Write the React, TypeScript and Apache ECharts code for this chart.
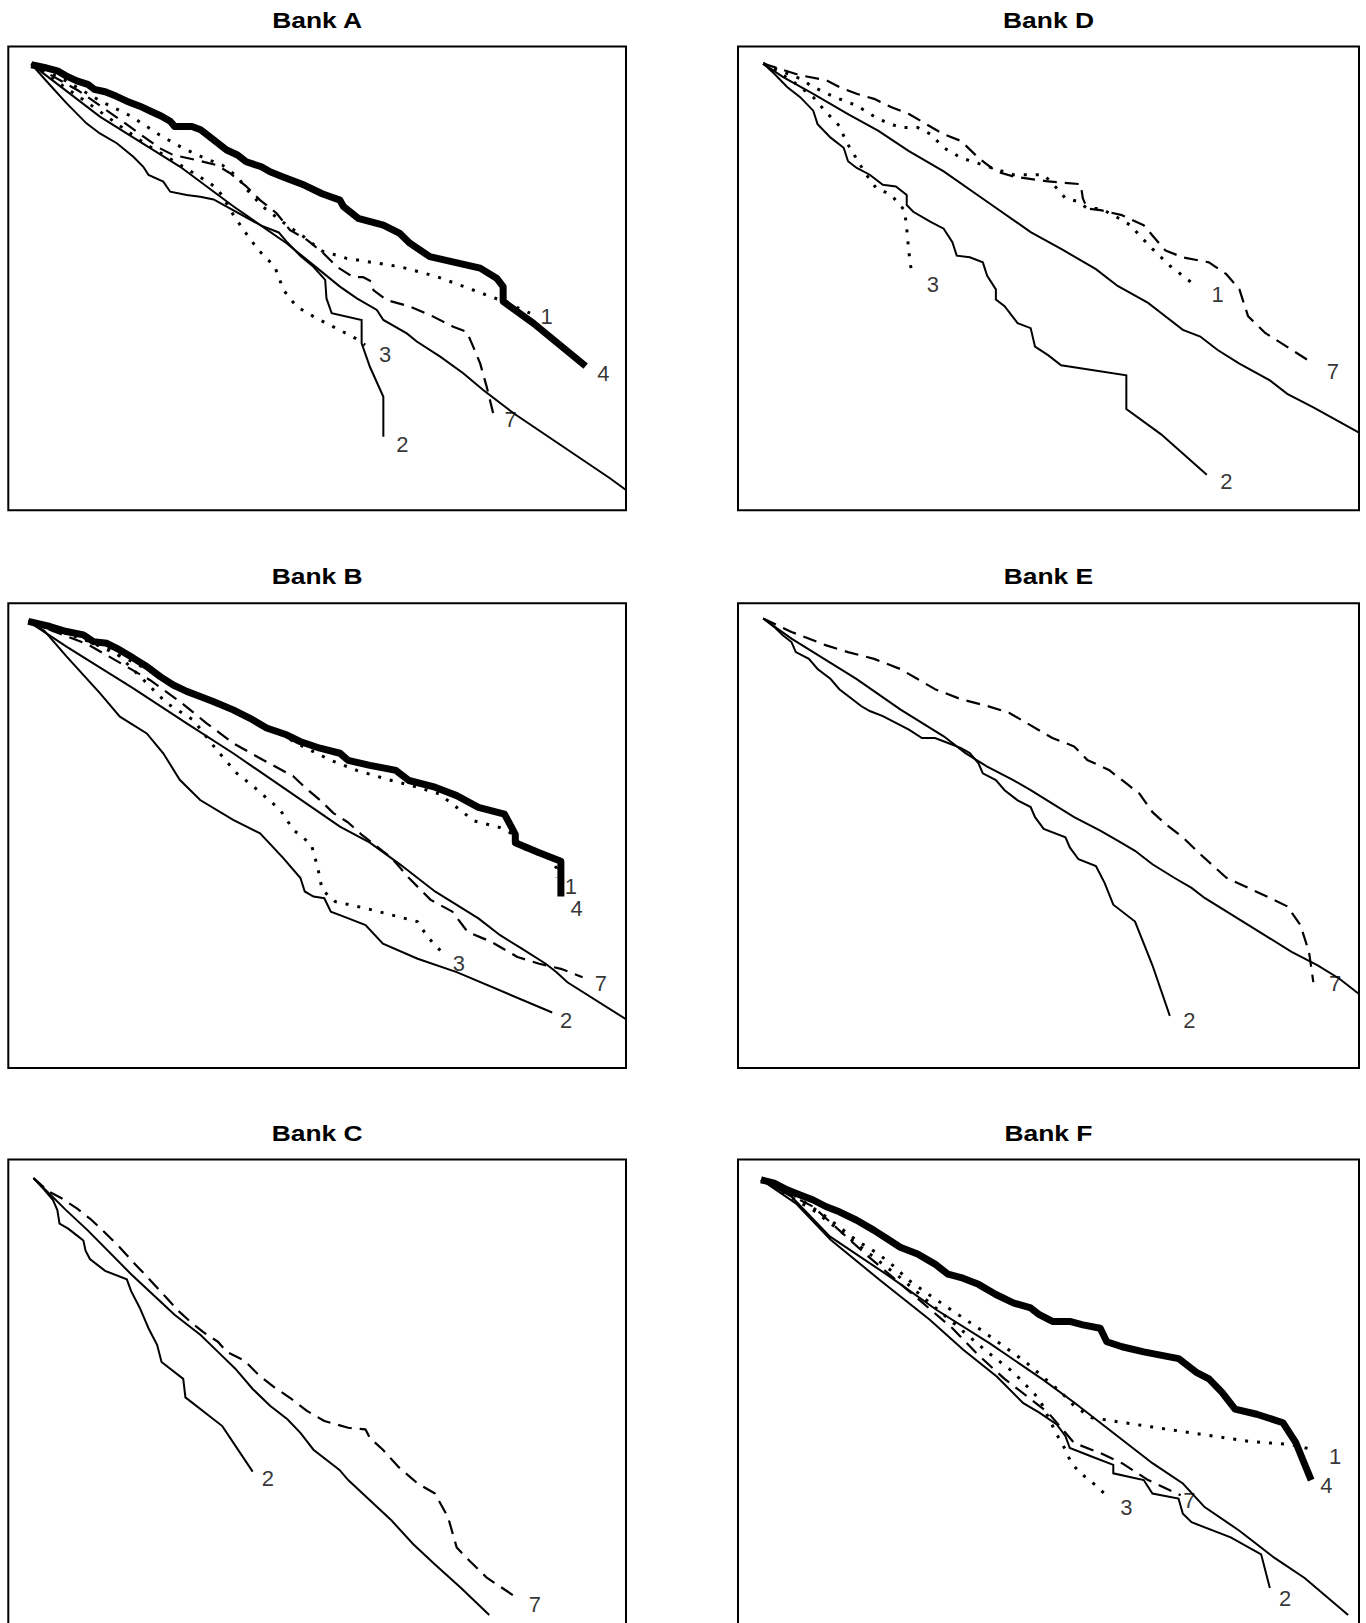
import React, { useEffect, useRef } from "react";
import * as echarts from "echarts";

type Pt = [number, number];
type Lbl = [number, number, string];

// ---------- Bank A ----------
const A_DIAG: Pt[] = [[70,190],[228,346],[413,495],[536,613],[658,722],[720,787],[781,851],[820,886],[866,920],[881,950],[935,990],[958,1014],[1012,1059],[1065,1108],[1111,1158],[1181,1227],[1403,1420],[1440,1455]];
const A_L4: Pt[] = [[70,192],[100,200],[130,210],[150,225],[175,240],[200,250],[215,265],[240,272],[265,285],[290,300],[320,315],[345,330],[370,345],[390,360],[400,375],[440,375],[460,385],[475,400],[500,425],[520,445],[545,460],[565,480],[600,495],[620,510],[650,525],[700,550],[740,575],[781,594],[789,613],[823,648],[881,668],[919,693],[942,722],[988,762],[1104,796],[1142,826],[1157,851],[1157,895],[1227,960],[1347,1087]];
const A_L1: Pt[] = [[70,190],[150,240],[230,300],[300,345],[365,400],[420,440],[470,470],[510,490],[545,525],[565,560],[600,610],[650,660],[700,705],[740,745],[797,767],[920,792],[1004,821],[1088,861],[1150,891],[1219,930]];
const A_L7: Pt[] = [[70,190],[180,270],[280,360],[366,440],[397,460],[451,475],[497,490],[528,514],[566,554],[597,594],[635,633],[666,683],[705,712],[743,752],[774,792],[812,823],[835,823],[854,836],[858,861],[889,891],[942,910],[996,940],[1042,970],[1073,985],[1088,1029],[1104,1079],[1119,1148],[1134,1227]];
const A_L3: Pt[] = [[70,190],[200,305],[330,425],[451,519],[493,554],[509,579],[528,623],[559,683],[593,742],[631,792],[651,861],[681,910],[727,945],[758,965],[816,1004],[839,1024]];
const A_L2: Pt[] = [[70,190],[113,252],[151,306],[197,366],[228,396],[267,425],[305,465],[328,495],[340,519],[374,539],[390,569],[428,579],[459,584],[490,592],[520,613],[600,670],[640,690],[660,720],[690,760],[720,792],[747,831],[750,886],[762,930],[831,950],[831,1019],[850,1089],[881,1178],[881,1297]];
const A_LABELS: Lbl[] = [[1257,940,"1"],[925,1321,"2"],[885,1054,"3"],[1388,1108,"4"],[1174,1247,"7"]];

// ---------- Bank D ----------
const D_DIAG: Pt[] = [[185,190],[230,230],[300,280],[380,340],[450,390],[520,450],[600,510],[700,600],[800,690],[870,740],[950,800],[1000,850],[1070,900],[1100,930],[1150,980],[1190,1000],[1230,1040],[1280,1080],[1350,1130],[1390,1170],[1450,1210],[1555,1285]];
const D_L2: Pt[] = [[185,190],[210,220],[240,260],[270,290],[300,330],[310,370],[340,410],[370,440],[380,480],[400,500],[430,520],[460,550],[490,555],[515,580],[515,610],[530,630],[570,660],[600,680],[620,720],[630,760],[660,765],[690,780],[700,820],[720,860],[720,890],[740,910],[770,960],[800,975],[810,1030],[840,1055],[870,1085],[1020,1115],[1020,1215],[1100,1290],[1205,1410]];
const D_L3: Pt[] = [[185,190],[250,240],[300,290],[330,335],[360,375],[375,420],[410,495],[425,525],[445,560],[480,580],[495,605],[510,625],[515,680],[520,750],[525,800]];
const D_L1: Pt[] = [[185,190],[230,215],[270,235],[300,260],[350,290],[400,315],[450,355],[500,380],[540,380],[570,400],[600,440],[640,470],[700,495],[760,520],[830,520],[860,560],[880,590],[910,600],[930,620],[960,620],[990,640],[1030,670],[1050,700],[1080,740],[1120,790],[1180,850]];
const D_L7: Pt[] = [[185,190],[220,205],[270,225],[330,240],[360,260],[400,280],[440,295],[480,320],[520,340],[560,370],[600,400],[640,420],[680,470],[720,510],[760,525],[840,540],[915,548],[920,590],[930,620],[960,625],[1010,640],[1060,670],[1080,700],[1110,745],[1150,765],[1210,780],[1250,815],[1280,860],[1300,940],[1340,990],[1450,1080]];
const D_LABELS: Lbl[] = [[575,845,"3"],[1230,875,"1"],[1495,1105,"7"],[1250,1430,"2"]];

// ---------- Bank B ----------
const B_DIAG: Pt[] = [[63,197],[151,272],[305,396],[428,500],[535,589],[658,698],[781,807],[850,855],[920,920],[1000,1000],[1050,1040],[1100,1080],[1150,1130],[1200,1170],[1255,1215],[1280,1240],[1305,1270],[1440,1380]];
const B_L4: Pt[] = [[63,197],[113,212],[151,227],[190,237],[213,257],[244,262],[267,277],[305,306],[336,331],[367,361],[397,386],[428,405],[459,420],[489,435],[535,460],[574,485],[612,514],[658,534],[689,554],[735,574],[781,589],[800,610],[850,625],[910,640],[940,670],[1000,690],[1050,715],[1100,750],[1160,770],[1185,830],[1185,855],[1240,885],[1290,910],[1290,1015]];
const B_L1: Pt[] = [[63,197],[150,225],[213,262],[300,315],[360,355],[428,405],[500,445],[580,490],[640,530],[690,565],[760,610],[820,640],[900,670],[960,690],[1010,710],[1060,760],[1090,790],[1150,810],[1180,830],[1200,870],[1260,900],[1280,930],[1280,960]];
const B_L2: Pt[] = [[63,197],[100,225],[151,301],[228,410],[274,480],[336,530],[374,589],[412,668],[459,728],[535,787],[597,827],[650,900],[690,960],[700,1000],[720,1015],[745,1020],[760,1060],[790,1075],[840,1100],[880,1155],[960,1200],[1050,1240],[1270,1360]];
const B_L3: Pt[] = [[63,197],[150,232],[259,282],[320,360],[382,440],[443,490],[497,579],[543,648],[582,688],[643,757],[674,817],[715,860],[730,930],[740,995],[770,1030],[840,1050],[900,1070],[960,1090],[980,1130],[1000,1160],[1020,1185]];
const B_L7: Pt[] = [[63,197],[200,265],[343,371],[412,435],[474,500],[535,559],[604,609],[674,658],[700,690],[735,728],[766,767],[800,795],[830,830],[870,870],[900,900],[940,960],[990,1025],[1040,1060],[1075,1120],[1130,1150],[1190,1195],[1240,1215],[1290,1230],[1340,1255]];
const B_LABELS: Lbl[] = [[1313,985,"1"],[1326,1050,"4"],[1055,1215,"3"],[1382,1275,"7"],[1302,1385,"2"]];

// ---------- Bank E ----------
const E_DIAG: Pt[] = [[185,190],[250,250],[300,290],[400,370],[500,460],[600,540],[650,590],[700,630],[760,670],[800,700],[850,740],[900,780],[960,820],[1000,850],[1040,880],[1080,920],[1130,960],[1170,990],[1200,1020],[1250,1060],[1300,1100],[1350,1140],[1400,1180],[1460,1220],[1510,1260],[1555,1305]];
const E_L2: Pt[] = [[185,190],[210,215],[230,240],[250,260],[260,290],[290,310],[310,340],[340,370],[360,400],[390,430],[410,450],[430,465],[460,480],[490,500],[520,520],[550,545],[580,545],[610,560],[640,575],[660,590],[680,620],[690,650],[720,670],[740,700],[770,730],[800,750],[810,780],[830,815],[880,840],[890,870],[910,905],[950,925],[970,975],[990,1040],[1040,1090],[1080,1220],[1120,1370]];
const E_L7: Pt[] = [[185,190],[250,230],[330,270],[380,290],[440,310],[500,340],[540,370],[580,400],[640,430],[700,450],[750,470],[790,500],[850,545],[900,570],[930,610],[980,640],[1020,680],[1050,710],[1080,765],[1110,800],[1150,840],[1190,890],[1250,960],[1300,990],[1350,1020],[1390,1045],[1420,1100],[1440,1180],[1450,1270]];
const E_LABELS: Lbl[] = [[1165,1385,"2"],[1500,1275,"7"]];

// ---------- Bank C ----------
const C_DIAG: Pt[] = [[75,205],[150,300],[200,360],[300,490],[400,610],[460,670],[500,720],[540,770],[580,830],[620,880],[660,920],[690,960],[720,1010],[780,1070],[800,1100],[850,1160],[900,1220],[950,1290],[1000,1350],[1060,1420],[1125,1500]];
const C_L2: Pt[] = [[75,205],[100,240],[120,270],[130,300],[135,340],[155,355],[180,380],[190,390],[195,420],[205,445],[240,480],[290,505],[300,540],[320,590],[340,650],[360,700],[370,750],[420,800],[425,855],[510,940],[580,1075]];
const C_L7: Pt[] = [[75,205],[110,245],[140,265],[175,295],[205,325],[230,355],[270,405],[305,455],[335,495],[360,530],[385,565],[410,600],[440,635],[470,665],[500,690],[520,720],[560,745],[595,790],[630,825],[670,860],[705,895],[745,925],[800,945],[840,950],[850,975],[880,1010],[915,1060],[960,1110],[1000,1140],[1030,1210],[1050,1300],[1080,1340],[1120,1390],[1190,1450]];
const C_LABELS: Lbl[] = [[615,1095,"2"],[1230,1470,"7"]];

// ---------- Bank F ----------
const F_DIAG: Pt[] = [[180,210],[250,260],[338,378],[476,497],[584,596],[706,695],[829,803],[900,870],[960,930],[1000,970],[1080,1050],[1150,1110],[1200,1180],[1280,1250],[1360,1330],[1430,1390],[1530,1500]];
const F_L4: Pt[] = [[180,210],[210,220],[240,240],[270,255],[300,270],[330,290],[360,305],[400,330],[440,360],[470,385],[500,410],[540,430],[580,460],[610,490],[640,500],[680,520],[720,550],[760,575],[800,590],[820,610],[850,630],[890,630],[920,640],[960,650],[975,690],[1010,705],[1060,720],[1140,740],[1180,780],[1210,800],[1240,840],[1270,890],[1320,905],[1380,930],[1410,990],[1445,1100]];
const F_L1: Pt[] = [[180,210],[250,250],[330,320],[400,390],[450,430],[484,465],[522,510],[568,552],[620,598],[680,650],[740,705],[790,752],[829,795],[870,840],[900,880],[940,915],[1040,935],[1170,960],[1300,985],[1400,995],[1450,1010]];
const F_L3: Pt[] = [[180,210],[300,300],[400,400],[500,500],[600,610],[700,720],[760,780],[820,860],[860,965],[880,1010],[890,1040],[910,1075],[940,1105],[970,1140]];
const F_L7: Pt[] = [[180,210],[300,290],[420,430],[520,540],[620,650],[680,730],[740,800],[800,860],[840,900],[900,990],[960,1020],[1010,1050],[1070,1100],[1120,1130],[1145,1145]];
const F_L2: Pt[] = [[180,210],[260,280],[340,388],[453,507],[568,625],[645,714],[722,793],[783,872],[820,900],[860,935],[880,970],[890,1005],[940,1030],[990,1055],[990,1080],[1060,1100],[1080,1140],[1140,1155],[1150,1200],[1170,1225],[1260,1270],[1330,1320],[1350,1420]];
const F_LABELS: Lbl[] = [[1500,1030,"1"],[1480,1115,"4"],[1020,1180,"3"],[1165,1160,"7"],[1385,1450,"2"]];

type StyleKey = "thick" | "solid" | "dotted" | "dashed";
const STYLES: Record<StyleKey, any> = {
  thick: { type: "solid", width: 7, join: "round", cap: "butt" },
  solid: { type: "solid", width: 2, join: "miter" },
  dotted: { type: [3, 9], width: 3, cap: "butt" },
  dashed: { type: [14, 8], width: 2.2, cap: "butt" },
};

interface Panel {
  title: string;
  box: { left: number; top: number; width: number; height: number };
  xRange: [number, number];
  yRange: [number, number];
  lines: { data: Pt[]; style: StyleKey }[];
  labels: Lbl[];
}

const LEFT_X = 8.3, LEFT_W = 617.7, RIGHT_X = 738, RIGHT_W = 621;

const PANELS: Panel[] = [
  {
    title: "Bank A",
    box: { left: LEFT_X, top: 46.6, width: LEFT_W, height: 463.6 },
    xRange: [17, 1440], yRange: [138, 1515],
    lines: [
      { data: A_DIAG, style: "solid" }, { data: A_L2, style: "solid" },
      { data: A_L3, style: "dotted" }, { data: A_L1, style: "dotted" },
      { data: A_L7, style: "dashed" }, { data: A_L4, style: "thick" },
    ],
    labels: A_LABELS,
  },
  {
    title: "Bank D",
    box: { left: RIGHT_X, top: 46.6, width: RIGHT_W, height: 463.6 },
    xRange: [127, 1555], yRange: [140, 1515],
    lines: [
      { data: D_DIAG, style: "solid" }, { data: D_L2, style: "solid" },
      { data: D_L3, style: "dotted" }, { data: D_L1, style: "dotted" },
      { data: D_L7, style: "dashed" },
    ],
    labels: D_LABELS,
  },
  {
    title: "Bank B",
    box: { left: LEFT_X, top: 603.3, width: LEFT_W, height: 464.7 },
    xRange: [17, 1440], yRange: [143, 1525],
    lines: [
      { data: B_DIAG, style: "solid" }, { data: B_L2, style: "solid" },
      { data: B_L3, style: "dotted" }, { data: B_L1, style: "dotted" },
      { data: B_L7, style: "dashed" }, { data: B_L4, style: "thick" },
    ],
    labels: B_LABELS,
  },
  {
    title: "Bank E",
    box: { left: RIGHT_X, top: 603.3, width: RIGHT_W, height: 464.7 },
    xRange: [127, 1555], yRange: [145, 1525],
    lines: [
      { data: E_DIAG, style: "solid" }, { data: E_L2, style: "solid" },
      { data: E_L7, style: "dashed" },
    ],
    labels: E_LABELS,
  },
  {
    title: "Bank C",
    box: { left: LEFT_X, top: 1159.5, width: LEFT_W, height: 465 },
    xRange: [17, 1440], yRange: [150, 1528],
    lines: [
      { data: C_DIAG, style: "solid" }, { data: C_L2, style: "solid" },
      { data: C_L7, style: "dashed" },
    ],
    labels: C_LABELS,
  },
  {
    title: "Bank F",
    box: { left: RIGHT_X, top: 1159.5, width: RIGHT_W, height: 465 },
    xRange: [127, 1555], yRange: [150, 1528],
    lines: [
      { data: F_DIAG, style: "solid" }, { data: F_L2, style: "solid" },
      { data: F_L3, style: "dotted" }, { data: F_L1, style: "dotted" },
      { data: F_L7, style: "dashed" }, { data: F_L4, style: "thick" },
    ],
    labels: F_LABELS,
  },
];

const FONT = '"Liberation Sans", Arial, Helvetica, sans-serif';

function buildOption() {
  const grid = PANELS.map((p) => ({
    left: p.box.left,
    top: p.box.top,
    width: p.box.width,
    height: p.box.height,
    show: true,
    borderColor: "#000",
    borderWidth: 2,
    backgroundColor: "transparent",
    containLabel: false,
    outerBoundsMode: "none",
  }));
  const xAxis = PANELS.map((p, i) => ({
    type: "value", gridIndex: i, min: p.xRange[0], max: p.xRange[1], show: false,
  }));
  const yAxis = PANELS.map((p, i) => ({
    type: "value", gridIndex: i, min: p.yRange[0], max: p.yRange[1], inverse: true, show: false,
  }));
  const series: any[] = [];
  PANELS.forEach((p, i) => {
    p.lines.forEach((ln) => {
      series.push({
        type: "line",
        xAxisIndex: i,
        yAxisIndex: i,
        data: ln.data,
        showSymbol: false,
        symbol: "none",
        silent: true,
        smooth: false,
        lineStyle: { color: "#000", ...STYLES[ln.style] },
        z: ln.style === "thick" ? 4 : 3,
      });
    });
    series.push({
      type: "scatter",
      xAxisIndex: i,
      yAxisIndex: i,
      symbolSize: 1,
      silent: true,
      itemStyle: { color: "rgba(0,0,0,0)" },
      label: {
        show: true,
        position: "inside",
        color: "#000",
        fontSize: 22,
        fontFamily: FONT,
      },
      data: p.labels.map((l) => ({ value: [l[0], l[1]], label: { formatter: l[2] } })),
      z: 6,
    });
  });
  const graphic = PANELS.map((p) => ({
    type: "text",
    x: p.box.left + p.box.width / 2,
    y: p.box.top - 26.5,
    scaleX: 1.2,
    silent: true,
    style: {
      text: p.title,
      fill: "#000",
      font: `bold 22px ${FONT}`,
      textAlign: "center",
      textVerticalAlign: "middle",
      align: "center",
      verticalAlign: "middle",
    },
  }));
  return {
    animation: false,
    backgroundColor: "#fff",
    grid,
    xAxis,
    yAxis,
    series,
    graphic,
  };
}

export default function App() {
  const ref = useRef<HTMLDivElement>(null);
  useEffect(() => {
    if (!ref.current) return;
    const chart = echarts.init(ref.current, null, { renderer: "svg" });
    chart.setOption(buildOption() as any);
    return () => chart.dispose();
  }, []);
  return (
    <div
      ref={ref}
      style={{ position: "absolute", left: 0, top: 0, width: 1366, height: 1623, background: "#fff" }}
    />
  );
}
